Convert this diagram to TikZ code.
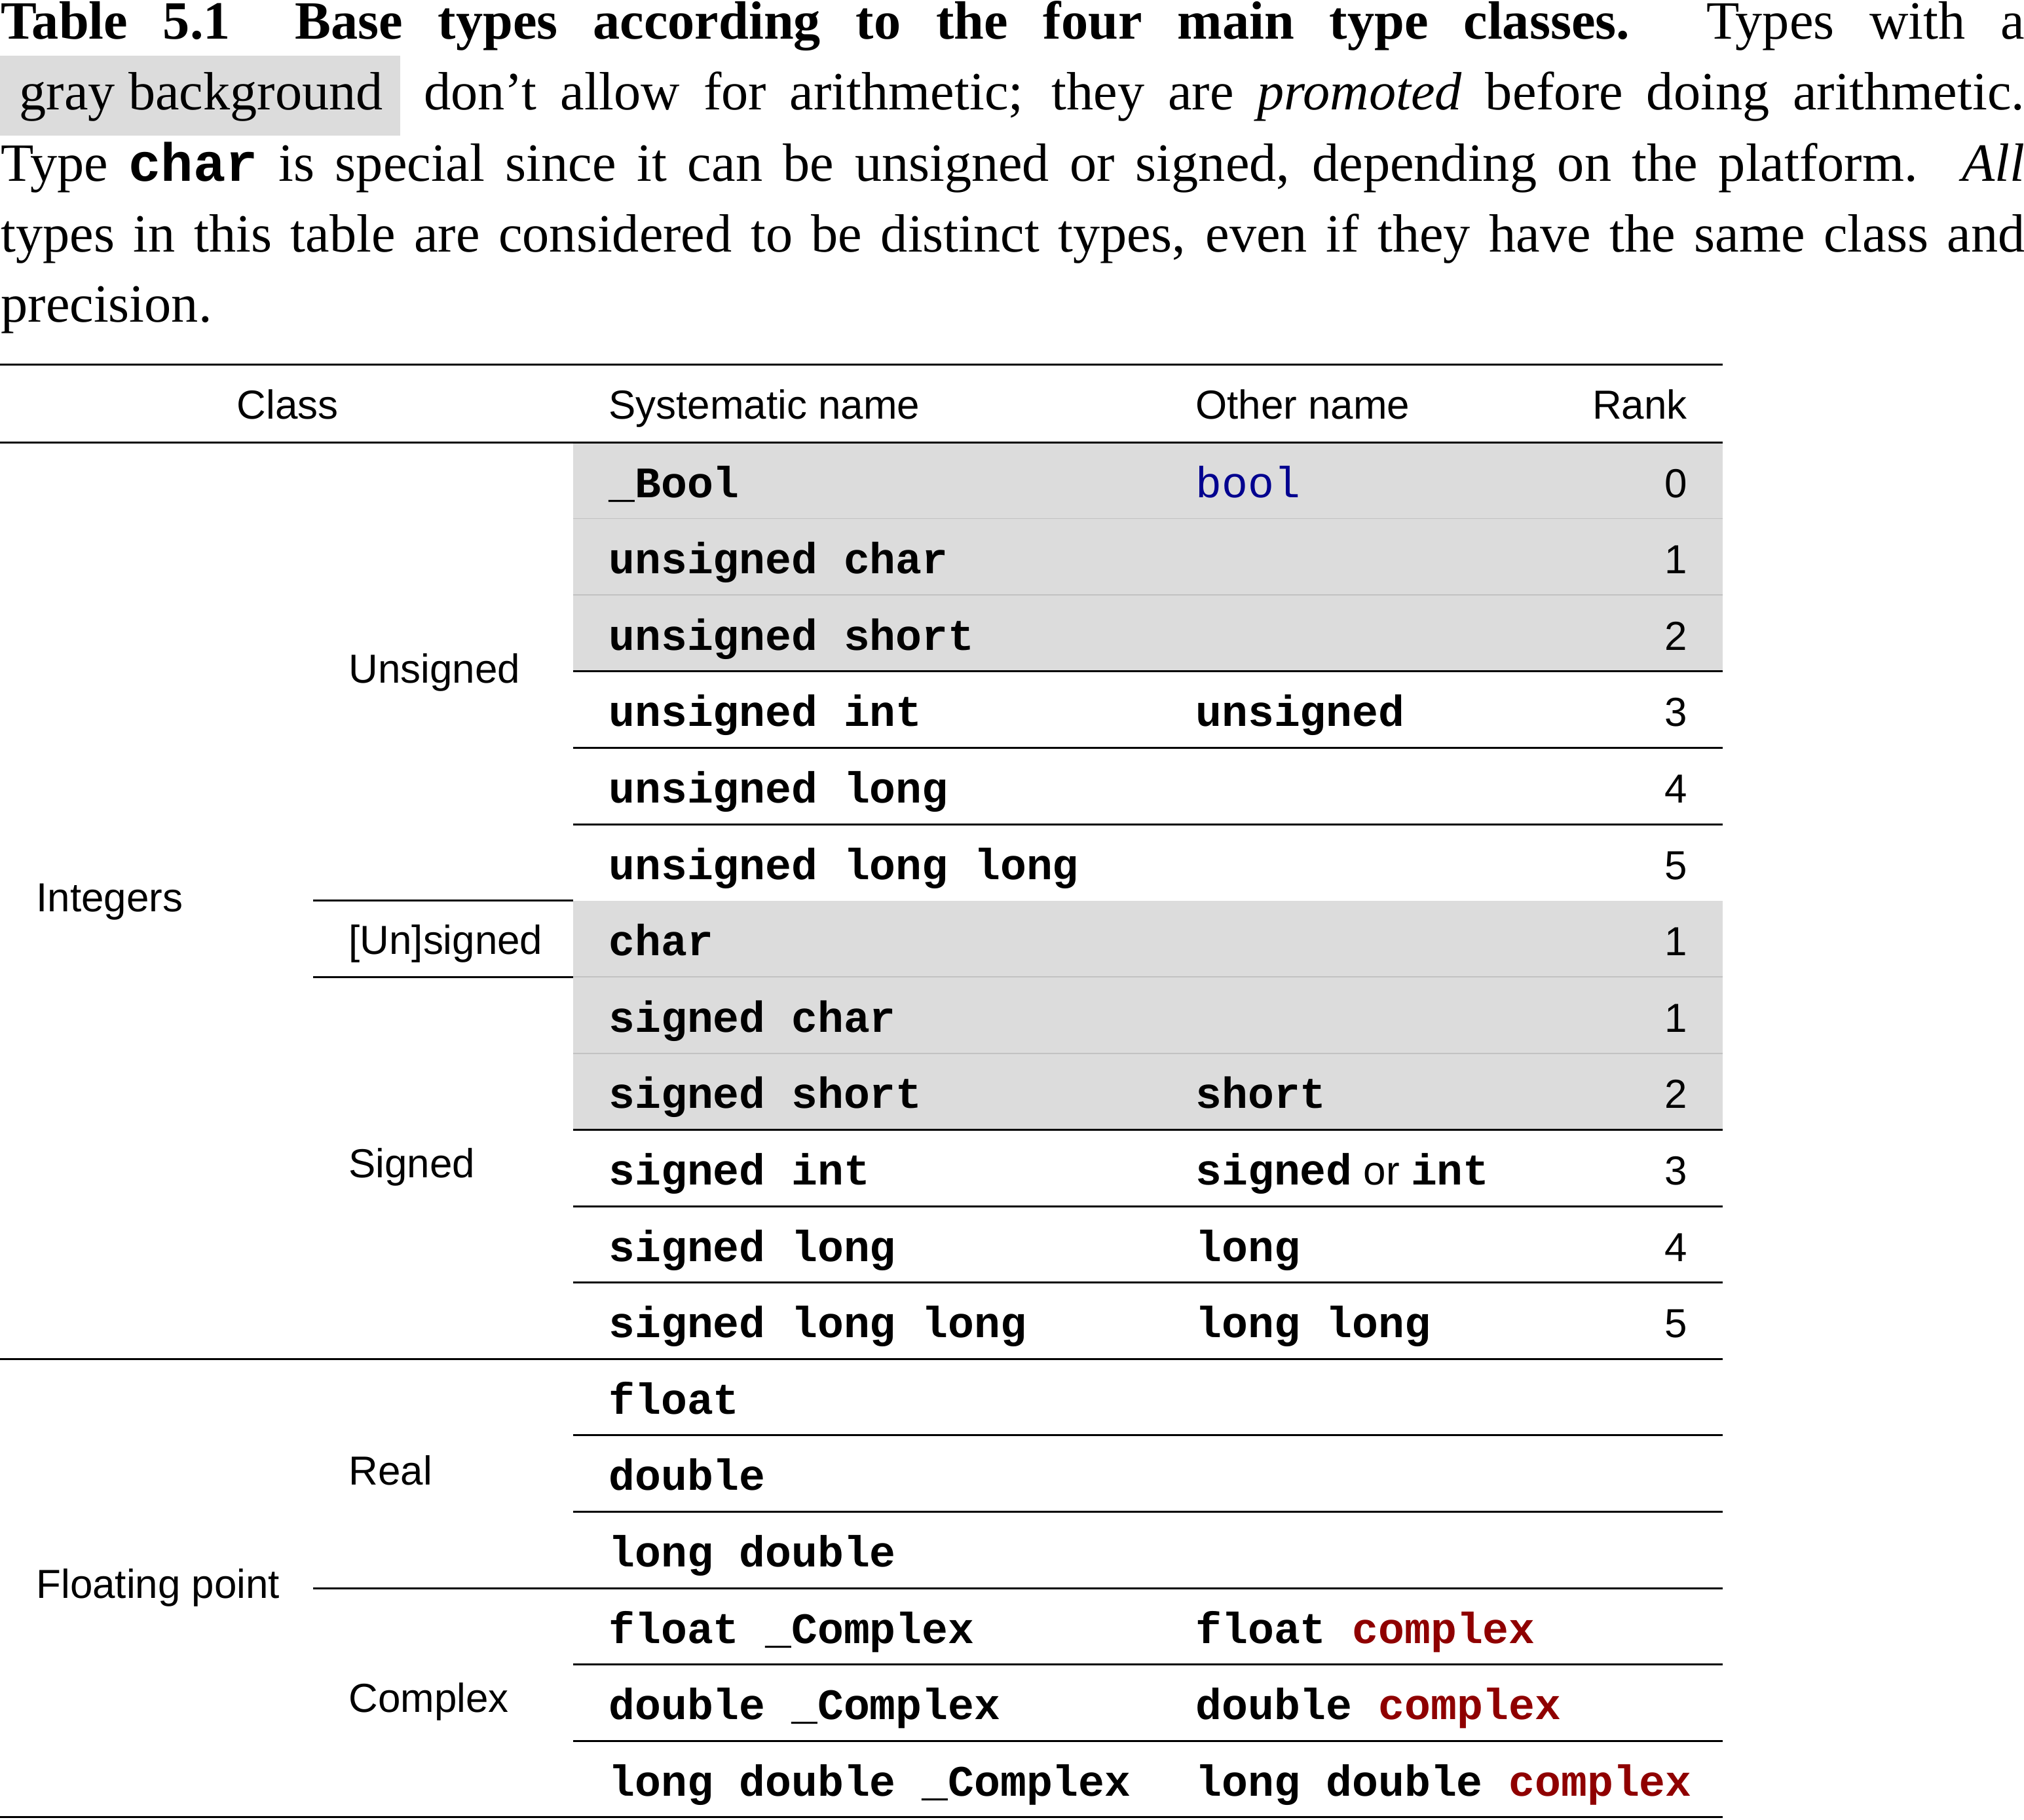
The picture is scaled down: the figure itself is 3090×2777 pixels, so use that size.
\documentclass[tikz,border=0pt]{standalone}
\usepackage{fontspec}
\setmainfont{Liberation Serif}
\setmonofont{Liberation Mono}
\newfontfamily\tabsf{Liberation Sans}
\definecolor{rowgray}{HTML}{DCDCDC}
\definecolor{sepgray}{HTML}{C2C2C2}
\definecolor{kwblue}{HTML}{00008F}
\definecolor{kwred}{HTML}{8F0000}
\newcommand{\capfont}{\fontsize{10.9}{13}\selectfont}
\newcommand{\tsf}{\fontsize{8.2}{10}\selectfont\tabsf\mdseries}
\newcommand{\tmono}{\fontsize{8.8}{10}\selectfont\ttfamily\bfseries}
\newcommand{\capmono}[1]{{\fontsize{10.9}{13}\selectfont\ttfamily\bfseries #1}}
\newcommand{\kwred}[1]{\textcolor{kwred}{#1}}
\tikzset{
  captxt/.style={anchor=base west, inner sep=0, font=\capfont},
  sfl/.style={anchor=base west, inner sep=0, font=\tsf},
  sfr/.style={anchor=base east, inner sep=0, font=\tsf},
  sfc/.style={anchor=base, inner sep=0, font=\tsf},
  code/.style={anchor=base west, inner sep=0, font=\tmono},
  tabrule/.style={line width=0.4pt, black},
  seprule/.style={line width=0.2pt, sepgray},
}
\begin{document}
\begin{tikzpicture}[x=0.1325pt,y=-0.1325pt]
\useasboundingbox (0,0) rectangle (3090,2777);
% ---------------- caption ----------------
\fill[rowgray] (0,85) rectangle (611,207);
\node[captxt] (c1) at (0,59) {\hbox to 409.4pt{\textbf{Table 5.1}\hspace{0.55em plus 0.2em}\textbf{Base types according to the four main type classes.}\hspace{0.45em plus 0.3em}Types with a}};
\node[captxt] (c2a) at (28,167) {gray background};
\node[captxt] (c2b) at (646,167) {\hbox to 323.8pt{don’t allow for arithmetic; they are \emph{promoted} before doing arithmetic.}};
\node[captxt] (c3) at (0,276) {\hbox to 409.4pt{Type \capmono{char} is special since it can be unsigned or signed, depending on the platform.\hspace{0.5em plus 0.3em}\emph{All}}};
\node[captxt] (c4) at (0,384) {\hbox to 409.4pt{types in this table are considered to be distinct types, even if they have the same class and}};
\node[captxt] (c5) at (0,491) {precision.};
% ---------------- gray rows ----------------
\fill[rowgray] (875,675) rectangle (2630,1024.8);
\fill[rowgray] (875,1374.6) rectangle (2630,1724.4);
\draw[seprule] (875,791.6) -- (2630,791.6);
\draw[seprule] (875,908.2) -- (2630,908.2);
\draw[seprule] (875,1491.2) -- (2630,1491.2);
\draw[seprule] (875,1607.8) -- (2630,1607.8);
% ---------------- rules ----------------
\draw[tabrule] (0,556) -- (2630,556);
\draw[tabrule] (0,675) -- (2630,675);
\draw[tabrule] (875,1024.8) -- (2630,1024.8);
\draw[tabrule] (875,1141.4) -- (2630,1141.4);
\draw[tabrule] (875,1258.0) -- (2630,1258.0);
\draw[tabrule] (478,1374.6) -- (875,1374.6);
\draw[tabrule] (478,1491.2) -- (875,1491.2);
\draw[tabrule] (875,1724.4) -- (2630,1724.4);
\draw[tabrule] (875,1841.0) -- (2630,1841.0);
\draw[tabrule] (875,1957.6) -- (2630,1957.6);
\draw[tabrule] (0,2074.2) -- (2630,2074.2);
\draw[tabrule] (875,2190.8) -- (2630,2190.8);
\draw[tabrule] (875,2307.4) -- (2630,2307.4);
\draw[tabrule] (478,2424.0) -- (2630,2424.0);
\draw[tabrule] (875,2540.6) -- (2630,2540.6);
\draw[tabrule] (875,2657.2) -- (2630,2657.2);
\draw[tabrule] (0,2773.8) -- (2630,2773.8);
% ---------------- header ----------------
\node[sfc] (hclass) at (439,639) {Class};
\node[sfl] (hsys) at (928,639) {Systematic name};
\node[sfl] (hother) at (1824,639) {Other name};
\node[sfr] (hrank) at (2577,639) {Rank};
% ---------------- class labels ----------------
\node[sfl] (lint) at (54,1391) {Integers};
\node[sfl] (luns) at (531,1042) {Unsigned};
\node[sfl] (lunsig) at (531,1456) {[Un]signed};
\node[sfl] (lsig) at (531,1797) {Signed};
\node[sfl] (lfp) at (54,2439) {Floating point};
\node[sfl] (lreal) at (531,2266) {Real};
\node[sfl] (lcplx) at (531,2613) {Complex};
% ---------------- systematic names ----------------
\node[code] (s1) at (928,759) {\_Bool};
\node[code] (s2) at (928,875.6) {unsigned char};
\node[code] (s3) at (928,992.2) {unsigned short};
\node[code] (s4) at (928,1108.8) {unsigned int};
\node[code] (s5) at (928,1225.4) {unsigned long};
\node[code] (s6) at (928,1342) {unsigned long long};
\node[code] (s7) at (928,1458.6) {char};
\node[code] (s8) at (928,1575.2) {signed char};
\node[code] (s9) at (928,1691.8) {signed short};
\node[code] (s10) at (928,1808.4) {signed int};
\node[code] (s11) at (928,1925) {signed long};
\node[code] (s12) at (928,2041.6) {signed long long};
\node[code] (s13) at (928,2158.2) {float};
\node[code] (s14) at (928,2274.8) {double};
\node[code] (s15) at (928,2391.4) {long double};
\node[code] (s16) at (928,2508) {float \_Complex};
\node[code] (s17) at (928,2624.6) {double \_Complex};
\node[code] (s18) at (928,2741.2) {long double \_Complex};
% ---------------- other names ----------------
\node[code, font=\fontsize{8.8}{10}\selectfont\ttfamily\mdseries, text=kwblue] (o1) at (1824,759) {bool};
\node[code] (o4) at (1824,1108.8) {unsigned};
\node[code] (o9) at (1824,1691.8) {short};
\node[code] (o10) at (1824,1808.4) {signed{\tsf\ or }int};
\node[code] (o11) at (1824,1925) {long};
\node[code] (o12) at (1824,2041.6) {long long};
\node[code] (o16) at (1824,2508) {float \kwred{complex}};
\node[code] (o17) at (1824,2624.6) {double \kwred{complex}};
\node[code] (o18) at (1824,2741.2) {long double \kwred{complex}};
% ---------------- ranks ----------------
\node[sfr] (r1) at (2577,759) {0};
\node[sfr] (r2) at (2577,875.6) {1};
\node[sfr] (r3) at (2577,992.2) {2};
\node[sfr] (r4) at (2577,1108.8) {3};
\node[sfr] (r5) at (2577,1225.4) {4};
\node[sfr] (r6) at (2577,1342) {5};
\node[sfr] (r7) at (2577,1458.6) {1};
\node[sfr] (r8) at (2577,1575.2) {1};
\node[sfr] (r9) at (2577,1691.8) {2};
\node[sfr] (r10) at (2577,1808.4) {3};
\node[sfr] (r11) at (2577,1925) {4};
\node[sfr] (r12) at (2577,2041.6) {5};
\end{tikzpicture}
\end{document}
